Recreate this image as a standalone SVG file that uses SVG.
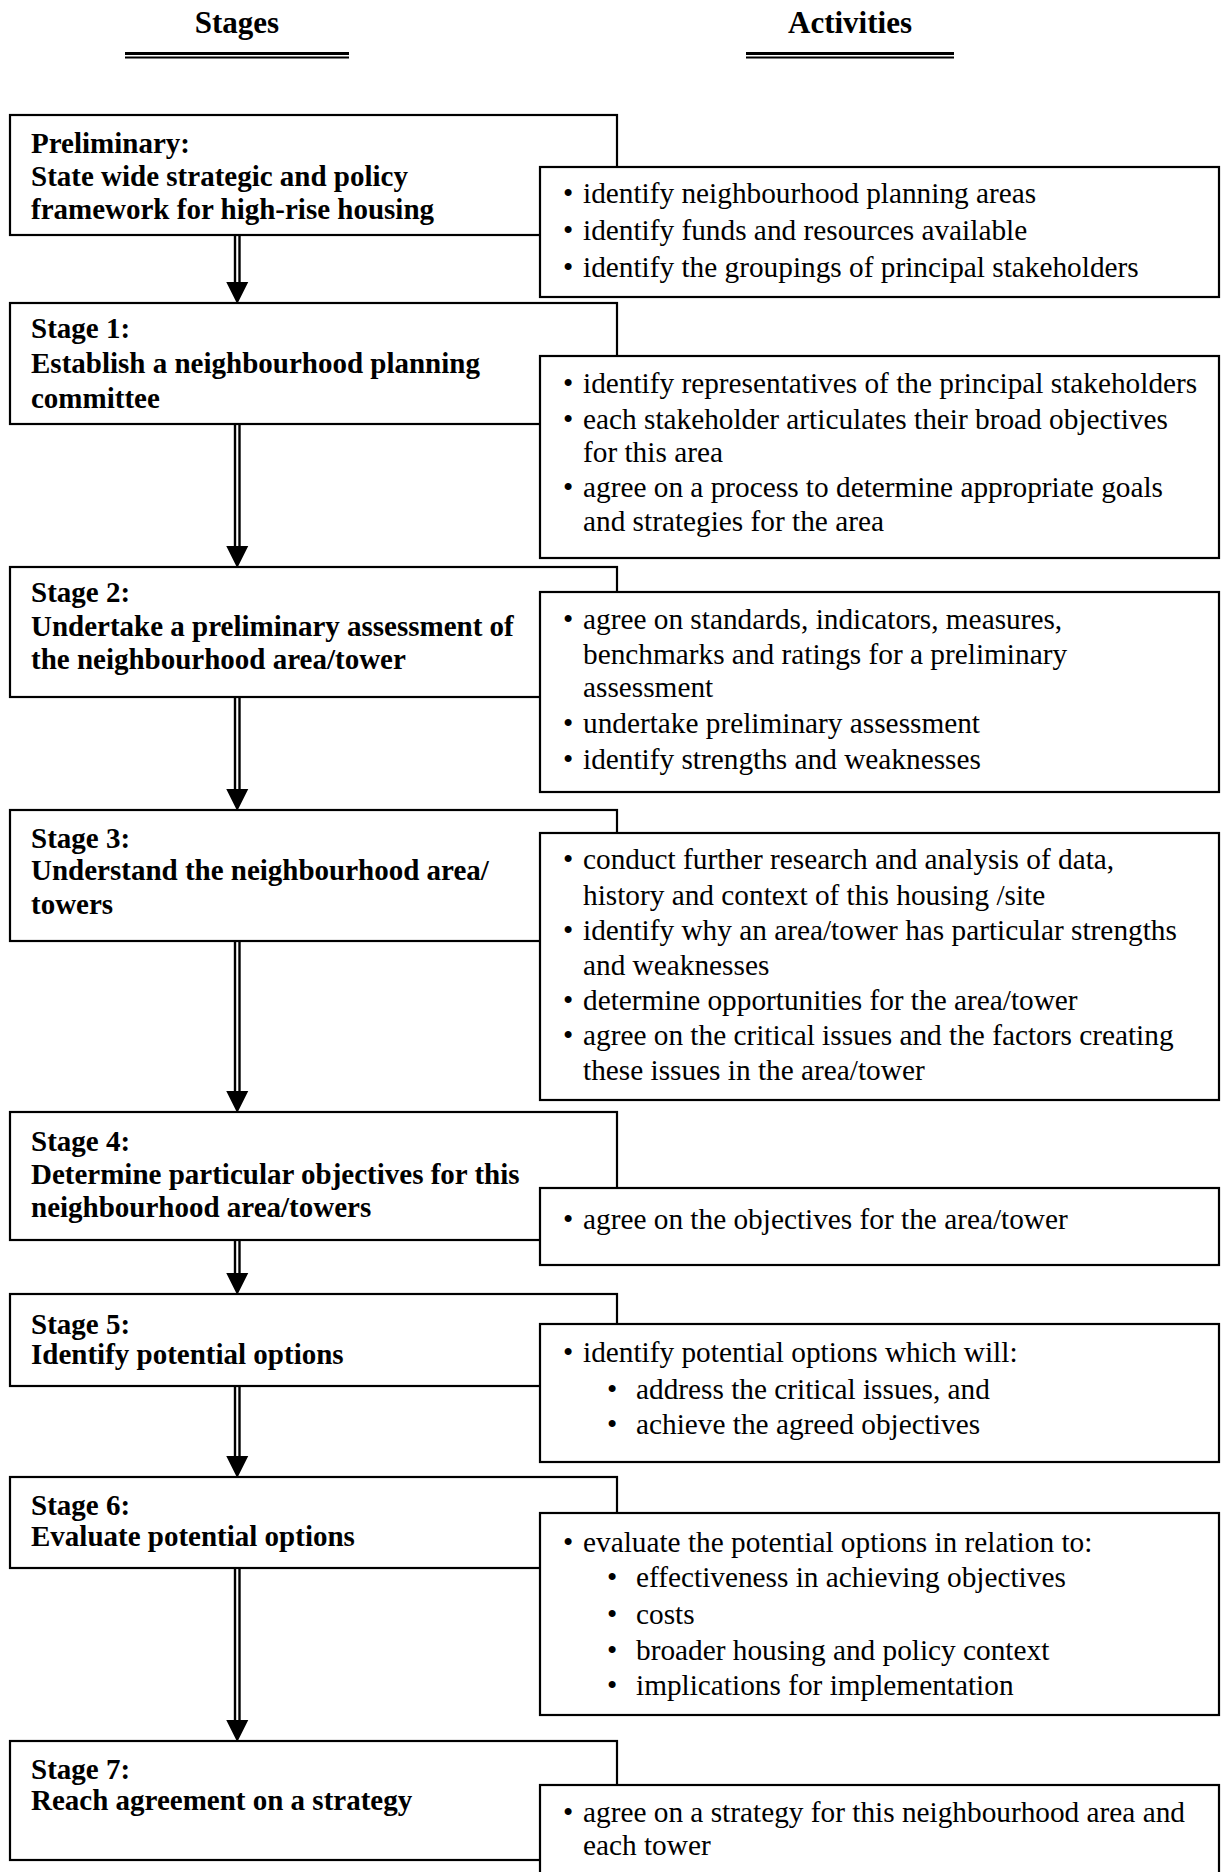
<svg xmlns="http://www.w3.org/2000/svg" width="1221" height="1872" viewBox="0 0 1221 1872">
<style>
.box{fill:#fff;stroke:#000;stroke-width:2.2}
.st{font-family:"Liberation Serif","Times New Roman",serif;font-size:29px;font-weight:bold;fill:#000}
.ac{font-family:"Liberation Serif","Times New Roman",serif;font-size:29.3px;fill:#000}
.bu{font-family:"Liberation Serif","Times New Roman",serif;font-size:29.3px;fill:#000}
.ttl{font-family:"Liberation Serif","Times New Roman",serif;font-size:31px;font-weight:bold;fill:#000;text-anchor:middle}
.shaft{stroke:#000;stroke-width:2.4;fill:none}
.ul1{stroke:#000;stroke-width:3}
.ul2{stroke:#000;stroke-width:2}
</style>
<rect width="1221" height="1872" fill="#fff"/>

<g id="title-stages">
<text class="ttl" x="237" y="33">Stages</text>
<line class="ul1" x1="125" y1="53.5" x2="349" y2="53.5"/>
<line class="ul2" x1="125" y1="57.5" x2="349" y2="57.5"/>
</g>
<g id="title-activities">
<text class="ttl" x="850" y="33">Activities</text>
<line class="ul1" x1="746" y1="53.5" x2="954" y2="53.5"/>
<line class="ul2" x1="746" y1="57.5" x2="954" y2="57.5"/>
</g>

<g id="connectors">
<g>
<line class="shaft" x1="235" y1="235" x2="235" y2="284"/><line class="shaft" x1="239.5" y1="235" x2="239.5" y2="284"/>
<path d="M226.25,282 L248.25,282 L237.25,304 Z"/>
</g>
<g>
<line class="shaft" x1="235" y1="424" x2="235" y2="548"/><line class="shaft" x1="239.5" y1="424" x2="239.5" y2="548"/>
<path d="M226.25,546 L248.25,546 L237.25,568 Z"/>
</g>
<g>
<line class="shaft" x1="235" y1="697" x2="235" y2="791"/><line class="shaft" x1="239.5" y1="697" x2="239.5" y2="791"/>
<path d="M226.25,789 L248.25,789 L237.25,811 Z"/>
</g>
<g>
<line class="shaft" x1="235" y1="941" x2="235" y2="1093"/><line class="shaft" x1="239.5" y1="941" x2="239.5" y2="1093"/>
<path d="M226.25,1091 L248.25,1091 L237.25,1113 Z"/>
</g>
<g>
<line class="shaft" x1="235" y1="1240" x2="235" y2="1275"/><line class="shaft" x1="239.5" y1="1240" x2="239.5" y2="1275"/>
<path d="M226.25,1273 L248.25,1273 L237.25,1295 Z"/>
</g>
<g>
<line class="shaft" x1="235" y1="1386" x2="235" y2="1458"/><line class="shaft" x1="239.5" y1="1386" x2="239.5" y2="1458"/>
<path d="M226.25,1456 L248.25,1456 L237.25,1478 Z"/>
</g>
<g>
<line class="shaft" x1="235" y1="1568" x2="235" y2="1722"/><line class="shaft" x1="239.5" y1="1568" x2="239.5" y2="1722"/>
<path d="M226.25,1720 L248.25,1720 L237.25,1742 Z"/>
</g>
</g>

<g id="stage-preliminary">
<rect class="box" x="10" y="115" width="607" height="120"/>
<text class="st" x="31" y="153">Preliminary:</text>
<text class="st" x="31" y="186">State wide strategic and policy</text>
<text class="st" x="31" y="219">framework for high-rise housing</text>
</g>
<g id="activities-preliminary">
<rect class="box" x="540" y="167" width="679" height="130"/>
<text class="bu" x="563" y="203">•</text><text class="ac" x="583" y="203">identify neighbourhood planning areas</text>
<text class="bu" x="563" y="240">•</text><text class="ac" x="583" y="240">identify funds and resources available</text>
<text class="bu" x="563" y="277">•</text><text class="ac" x="583" y="277">identify the groupings of principal stakeholders</text>
</g>

<g id="stage-1">
<rect class="box" x="10" y="303" width="607" height="121"/>
<text class="st" x="31" y="338">Stage 1:</text>
<text class="st" x="31" y="373">Establish a neighbourhood planning</text>
<text class="st" x="31" y="408">committee</text>
</g>
<g id="activities-1">
<rect class="box" x="540" y="356" width="679" height="202"/>
<text class="bu" x="563" y="393">•</text><text class="ac" x="583" y="393">identify representatives of the principal stakeholders</text>
<text class="bu" x="563" y="429">•</text><text class="ac" x="583" y="429">each stakeholder articulates their broad objectives</text>
<text class="ac" x="583" y="462">for this area</text>
<text class="bu" x="563" y="497">•</text><text class="ac" x="583" y="497">agree on a process to determine appropriate goals</text>
<text class="ac" x="583" y="531">and strategies for the area</text>
</g>

<g id="stage-2">
<rect class="box" x="10" y="567" width="607" height="130"/>
<text class="st" x="31" y="602">Stage 2:</text>
<text class="st" x="31" y="636">Undertake a preliminary assessment of</text>
<text class="st" x="31" y="669">the neighbourhood area/tower</text>
</g>
<g id="activities-2">
<rect class="box" x="540" y="592" width="679" height="200"/>
<text class="bu" x="563" y="629">•</text><text class="ac" x="583" y="629">agree on standards, indicators, measures,</text>
<text class="ac" x="583" y="664">benchmarks and ratings for a preliminary</text>
<text class="ac" x="583" y="697">assessment</text>
<text class="bu" x="563" y="733">•</text><text class="ac" x="583" y="733">undertake preliminary assessment</text>
<text class="bu" x="563" y="769">•</text><text class="ac" x="583" y="769">identify strengths and weaknesses</text>
</g>

<g id="stage-3">
<rect class="box" x="10" y="810" width="607" height="131"/>
<text class="st" x="31" y="848">Stage 3:</text>
<text class="st" x="31" y="880">Understand the neighbourhood area/</text>
<text class="st" x="31" y="914">towers</text>
</g>
<g id="activities-3">
<rect class="box" x="540" y="833" width="679" height="267"/>
<text class="bu" x="563" y="869">•</text><text class="ac" x="583" y="869">conduct further research and analysis of data,</text>
<text class="ac" x="583" y="905">history and context of this housing /site</text>
<text class="bu" x="563" y="940">•</text><text class="ac" x="583" y="940">identify why an area/tower has particular strengths</text>
<text class="ac" x="583" y="975">and weaknesses</text>
<text class="bu" x="563" y="1010">•</text><text class="ac" x="583" y="1010">determine opportunities for the area/tower</text>
<text class="bu" x="563" y="1045">•</text><text class="ac" x="583" y="1045">agree on the critical issues and the factors creating</text>
<text class="ac" x="583" y="1080">these issues in the area/tower</text>
</g>

<g id="stage-4">
<rect class="box" x="10" y="1112" width="607" height="128"/>
<text class="st" x="31" y="1151">Stage 4:</text>
<text class="st" x="31" y="1184">Determine particular objectives for this</text>
<text class="st" x="31" y="1217">neighbourhood area/towers</text>
</g>
<g id="activities-4">
<rect class="box" x="540" y="1188" width="679" height="77"/>
<text class="bu" x="563" y="1229">•</text><text class="ac" x="583" y="1229">agree on the objectives for the area/tower</text>
</g>

<g id="stage-5">
<rect class="box" x="10" y="1294" width="607" height="92"/>
<text class="st" x="31" y="1334">Stage 5:</text>
<text class="st" x="31" y="1364">Identify potential options</text>
</g>
<g id="activities-5">
<rect class="box" x="540" y="1324" width="679" height="138"/>
<text class="bu" x="563" y="1362">•</text><text class="ac" x="583" y="1362">identify potential options which will:</text>
<text class="bu" x="607" y="1399">•</text><text class="ac" x="636" y="1399">address the critical issues, and</text>
<text class="bu" x="607" y="1434">•</text><text class="ac" x="636" y="1434">achieve the agreed objectives</text>
</g>

<g id="stage-6">
<rect class="box" x="10" y="1477" width="607" height="91"/>
<text class="st" x="31" y="1515">Stage 6:</text>
<text class="st" x="31" y="1546">Evaluate potential options</text>
</g>
<g id="activities-6">
<rect class="box" x="540" y="1513" width="679" height="202"/>
<text class="bu" x="563" y="1552">•</text><text class="ac" x="583" y="1552">evaluate the potential options in relation to:</text>
<text class="bu" x="607" y="1587">•</text><text class="ac" x="636" y="1587">effectiveness in achieving objectives</text>
<text class="bu" x="607" y="1624">•</text><text class="ac" x="636" y="1624">costs</text>
<text class="bu" x="607" y="1660">•</text><text class="ac" x="636" y="1660">broader housing and policy context</text>
<text class="bu" x="607" y="1695">•</text><text class="ac" x="636" y="1695">implications for implementation</text>
</g>

<g id="stage-7">
<rect class="box" x="10" y="1741" width="607" height="119"/>
<text class="st" x="31" y="1779">Stage 7:</text>
<text class="st" x="31" y="1810">Reach agreement on a strategy</text>
</g>
<g id="activities-7">
<rect class="box" x="540" y="1785" width="679" height="100"/>
<text class="bu" x="563" y="1822">•</text><text class="ac" x="583" y="1822">agree on a strategy for this neighbourhood area and</text>
<text class="ac" x="583" y="1855">each tower</text>
</g>
</svg>
